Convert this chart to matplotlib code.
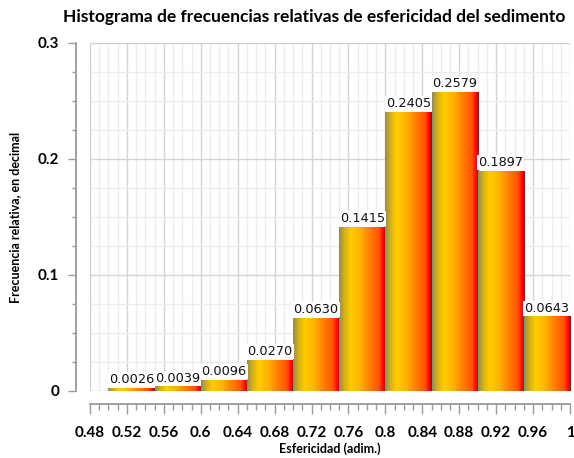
import numpy as np
import matplotlib
matplotlib.use("Agg")
import matplotlib.pyplot as plt
from matplotlib.colors import LinearSegmentedColormap
from matplotlib.ticker import MultipleLocator, FixedLocator

bin_left = [0.50, 0.55, 0.60, 0.65, 0.70, 0.75, 0.80, 0.85, 0.90, 0.95]
bin_width = 0.05
freq = [0.0026, 0.0039, 0.0096, 0.0270, 0.0630, 0.1415, 0.2405, 0.2579, 0.1897, 0.0643]
labels = ["0.0026", "0.0039", "0.0096", "0.0270", "0.0630", "0.1415", "0.2405", "0.2579", "0.1897", "0.0643"]
xticks = [0.48, 0.52, 0.56, 0.60, 0.64, 0.68, 0.72, 0.76, 0.80, 0.84, 0.88, 0.92, 0.96, 1.00]
xticklabels = ["0.48", "0.52", "0.56", "0.6", "0.64", "0.68", "0.72", "0.76", "0.8", "0.84", "0.88", "0.92", "0.96", "1"]
yticks = [0, 0.1, 0.2, 0.3]
yticklabels = ["0", "0.1", "0.2", "0.3"]

plt.rcParams['font.family'] = ['Lato', 'DejaVu Sans']
plt.rcParams['font.weight'] = 'bold'
plt.rcParams['xtick.labelsize'] = 11
plt.rcParams['ytick.labelsize'] = 11

fig = plt.figure(figsize=(5.74, 4.58), dpi=100)
ax = fig.add_axes([90/574, 1-391/458, 480/574, 348/458])
ax.set_xlim(0.48, 1.0)
ax.set_ylim(0, 0.3)

cmap = LinearSegmentedColormap.from_list("bar", [
    (0.0, "#8f8a66"), (0.12, "#d6b21a"), (0.25, "#ffcc00"), (0.45, "#ffb400"),
    (0.65, "#ff8000"), (0.85, "#ff5500"), (0.95, "#ff0000"), (1.0, "#b00000")])
grad = np.linspace(0, 1, 256).reshape(1, -1)

bars = ax.bar(bin_left, freq, width=bin_width, align='edge', facecolor='none',
              edgecolor='none', zorder=3)
for b, lab in zip(bars, labels):
    x0, y0, w, h = b.get_x(), b.get_y(), b.get_width(), b.get_height()
    im = ax.imshow(grad, cmap=cmap, aspect='auto', extent=(x0, x0 + w, y0, y0 + h),
                   zorder=3, interpolation='bilinear')
    im.set_clip_path(b)
    ax.text(x0 + w/2, h + 0.0015, lab, ha='center', va='bottom', fontsize=9.3,
            family='DejaVu Sans', fontweight='normal', color='#111111', zorder=5,
            bbox=dict(facecolor='white', edgecolor='none', pad=0.8))

# grid
ax.xaxis.set_major_locator(FixedLocator(xticks))
ax.xaxis.set_minor_locator(MultipleLocator(0.01))
ax.yaxis.set_major_locator(FixedLocator(yticks))
ax.yaxis.set_minor_locator(MultipleLocator(0.025))
ax.grid(True, which='major', color='#d4d4d4', lw=1.0, zorder=0)
ax.grid(True, which='minor', color='#ececec', lw=1.0, zorder=0)
ax.set_axisbelow(True)

ax.set_xticklabels(xticklabels)
ax.set_yticklabels(yticklabels)

for s in ['top', 'right']:
    ax.spines[s].set_visible(False)
ax.spines['left'].set_position(('outward', 10))
ax.spines['bottom'].set_position(('outward', 9))
for s in ['left', 'bottom']:
    ax.spines[s].set_color('#9a9a9a')
    ax.spines[s].set_linewidth(1.3)

ax.tick_params(axis='both', which='both', color='#9a9a9a', width=1.0)
ax.tick_params(axis='y', which='major', length=6, pad=6, direction='out')
ax.tick_params(axis='y', which='minor', length=3, direction='out')
ax.tick_params(axis='x', which='major', length=7, pad=9, direction='out')
ax.tick_params(axis='x', which='minor', length=4, direction='out')

# plot area frame
ax.axvline(0.48, color='#cfcfcf', lw=1.2, zorder=1)
ax.axhline(0.3, color='#cfcfcf', lw=1.2, zorder=1)

ax.set_xlabel("Esfericidad (adim.)", fontsize=9, fontweight='bold', labelpad=2)
ax.set_ylabel("Frecuencia relativa, en decimal", fontsize=9, fontweight='bold', labelpad=12)
fig.text(0.548, 0.962, "Histograma de frecuencias relativas de esfericidad del sedimento",
         ha='center', va='center', fontsize=12.5, fontweight='bold')

fig.savefig("out.png", dpi=100)
